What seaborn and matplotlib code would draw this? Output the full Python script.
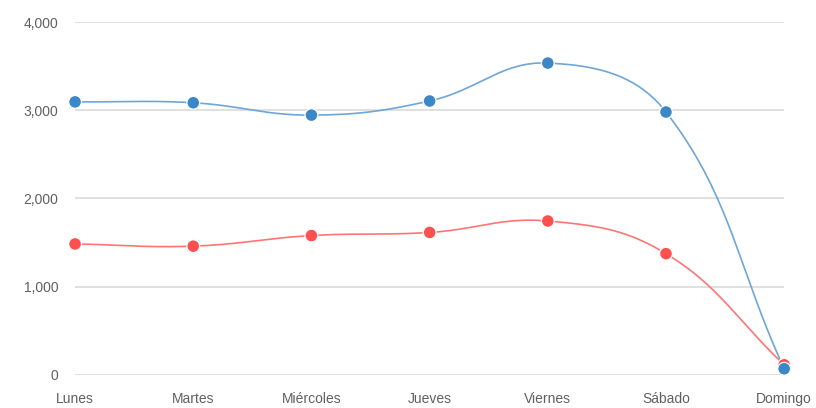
import matplotlib.pyplot as plt
import numpy as np
import pandas as pd
import seaborn as sns

dias = ["Lunes", "Martes", "Miércoles", "Jueves", "Viernes", "Sábado", "Domingo"]
serie_azul = [3095, 3085, 2945, 3105, 3535, 2980, 70]
serie_roja = [1485, 1460, 1580, 1615, 1745, 1375, 115]

color_azul = "#3b87c8"
color_roja = "#ff4f4f"
linea_azul = "#6ea6d8"
linea_roja = "#ff7575"

sns.set_theme(style="white")
plt.rcParams["font.family"] = ["Liberation Sans", "DejaVu Sans"]


def curva_suave(x, y, tension=0.4, n=40):
    # bezier al estilo chart.js, solo para dibujar la linea
    x = np.asarray(x, float)
    y = np.asarray(y, float)
    xs, ys = [], []
    cps = []
    for i in range(len(x)):
        p = (x[max(i - 1, 0)], y[max(i - 1, 0)])
        c = (x[i], y[i])
        nx = (x[min(i + 1, len(x) - 1)], y[min(i + 1, len(x) - 1)])
        d01 = np.hypot(c[0] - p[0], c[1] - p[1])
        d12 = np.hypot(nx[0] - c[0], nx[1] - c[1])
        tot = d01 + d12 if d01 + d12 > 0 else 1
        fa = tension * d01 / tot
        fb = tension * d12 / tot
        prev_cp = (c[0] - fa * (nx[0] - p[0]), c[1] - fa * (nx[1] - p[1]))
        next_cp = (c[0] + fb * (nx[0] - p[0]), c[1] + fb * (nx[1] - p[1]))
        cps.append((prev_cp, next_cp))
    t = np.linspace(0, 1, n)
    for i in range(len(x) - 1):
        p0 = np.array([x[i], y[i]])
        p1 = np.array(cps[i][1])
        p2 = np.array(cps[i + 1][0])
        p3 = np.array([x[i + 1], y[i + 1]])
        seg = ((1 - t) ** 3)[:, None] * p0 + (3 * (1 - t) ** 2 * t)[:, None] * p1 \
            + (3 * (1 - t) * t ** 2)[:, None] * p2 + (t ** 3)[:, None] * p3
        xs.extend(seg[:, 0])
        ys.extend(seg[:, 1])
    return xs, ys


# roja primero para que la azul quede encima
df = pd.DataFrame({
    "dia": list(range(len(dias))) * 2,
    "valor": serie_roja + serie_azul,
    "serie": ["roja"] * len(dias) + ["azul"] * len(dias),
})

fig = plt.figure(figsize=(8.16, 4.08), dpi=100)
ax = fig.add_axes([0.092, 0.081, 0.869, 0.865])

# escala en pixeles para que la curva se parezca a la original
sx = 118.2
sy = 88.25 / 1000
for vals, col in [(serie_roja, linea_roja), (serie_azul, linea_azul)]:
    cx, cy = curva_suave(np.arange(len(dias)) * sx, np.array(vals) * sy)
    ax.plot(np.array(cx) / sx, np.array(cy) / sy, color=col, lw=1.2, zorder=2,
            solid_capstyle="round")

sns.scatterplot(data=df, x="dia", y="valor", hue="serie",
                palette={"azul": color_azul, "roja": color_roja},
                s=85, edgecolor="white", linewidth=0.9, legend=False,
                zorder=3, clip_on=False, ax=ax)

ax.set_xlim(0, len(dias) - 1)
ax.set_ylim(0, 4000)
ax.set_yticks([0, 1000, 2000, 3000, 4000])
ax.set_yticklabels([f"{v:,}" for v in [0, 1000, 2000, 3000, 4000]])
ax.set_xticks(range(len(dias)))
ax.set_xticklabels(dias)
ax.set_xlabel("")
ax.set_ylabel("")
ax.grid(axis="y", color="#dddddd", lw=1.3)
ax.grid(axis="x", visible=False)
ax.set_axisbelow(True)
for s in ax.spines.values():
    s.set_visible(False)
ax.tick_params(axis="y", length=0, pad=12, labelsize=10, labelcolor="#606060")
ax.tick_params(axis="x", length=0, pad=12, labelsize=10, labelcolor="#606060")

fig.savefig("out.png", dpi=100)
